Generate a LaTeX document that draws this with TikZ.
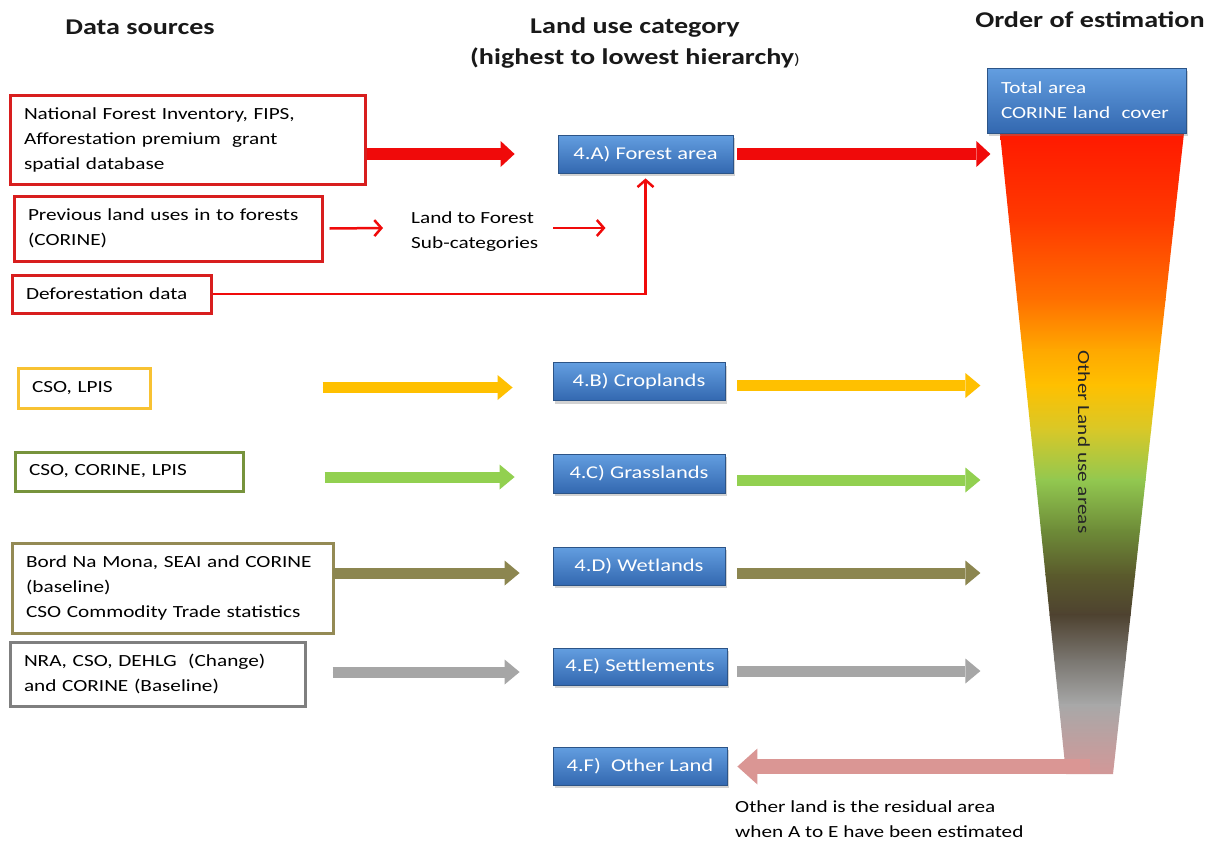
\documentclass[tikz,border=0pt]{standalone}
\usepackage{fontspec}
\setmainfont{Carlito}[FakeStretch=1.25]
\usetikzlibrary{arrows.meta,shadows}
\definecolor{bred}{HTML}{D81E1E}
\definecolor{ared}{HTML}{F00A0A}
\definecolor{byel}{HTML}{F8C232}
\definecolor{ayel}{HTML}{FFC000}
\definecolor{bgrn}{HTML}{77933C}
\definecolor{agrn}{HTML}{92D050}
\definecolor{bkha}{HTML}{948A54}
\definecolor{akha}{HTML}{8C8650}
\definecolor{bgry}{HTML}{7F7F7F}
\definecolor{agry}{HTML}{A6A6A6}
\definecolor{apink}{HTML}{DA9694}
\definecolor{blueT}{HTML}{639EE0}
\definecolor{blueB}{HTML}{3368B0}
\definecolor{blueD}{HTML}{2C5487}
\definecolor{fc0}{HTML}{FF1400}
\definecolor{fc1}{HTML}{FF3A00}
\definecolor{fc2}{HTML}{FF7000}
\definecolor{fc3}{HTML}{FFA800}
\definecolor{fc4}{HTML}{FFC000}
\definecolor{fc5}{HTML}{D8C828}
\definecolor{fc6}{HTML}{92C850}
\definecolor{fc7}{HTML}{6E8C38}
\definecolor{fc8}{HTML}{5A5A2C}
\definecolor{fc9}{HTML}{4E4230}
\definecolor{fc10}{HTML}{7A7670}
\definecolor{fc11}{HTML}{A8A8A8}
\definecolor{fc12}{HTML}{DC9494}
\tikzset{
  title/.style={font=\fontsize{22.5}{31}\selectfont\bfseries, text=black!90},
  src/.style={draw=#1, line width=3pt, align=left, inner xsep=14pt, inner ysep=0pt, fill=white},
  cat/.style={top color=blueT, bottom color=blueB, draw=blueD, line width=0.8pt, text=white,
    minimum height=38pt, inner sep=0pt, font=\fontsize{18}{25}\selectfont,
    drop shadow={opacity=0.35, shadow xshift=2pt, shadow yshift=-3pt}},
  fat/.style n args={4}{draw=#1, fill=#1, line width=#2, -{Triangle[length=#3, width=#4, line width=0pt]}},
  thin/.style={draw=ared, line width=2.5pt, -{Straight Barb[length=7pt, width=16pt]}}
}
\begin{document}
\begin{tikzpicture}[x=1pt,y=-1pt, font=\fontsize{17}{25}\selectfont]
\useasboundingbox[fill=white] (0,0) rectangle (1211,847);

% titles
\node[title] (t1) at (140,27) {Data sources};
\node[title, align=center] (t2) at (635,43) {Land use category\\(highest to lowest hierarchy{\mdseries\fontsize{15}{31}\selectfont)}};
\node[title] (t3) at (1090,20) {Order of estimation};

% funnel
\coordinate (f1) at (1000,133);
\coordinate (f2) at (1184,133);
\coordinate (f3) at (1113,774);
\coordinate (f4) at (1066,774);
\begin{scope}
  \clip (f1) -- (f2) -- (f3) -- (f4) -- cycle;
  \foreach \ya/\ca/\yb/\cb in {120/fc0/220/fc1, 220/fc1/300/fc2, 300/fc2/350/fc3, 350/fc3/385/fc4,
      385/fc4/430/fc5, 430/fc5/480/fc6, 480/fc6/530/fc7, 530/fc7/575/fc8, 575/fc8/615/fc9,
      615/fc9/660/fc10, 660/fc10/705/fc11, 705/fc11/790/fc12}
    {\shade[top color=\ca, bottom color=\cb] (990,\ya-0.5) rectangle (1195,\yb+0.5);}
\end{scope}
\node[rotate=-90, text=black!85] (ol) at (1084,442) {Other Land use areas};

% source boxes
\node[src=bred, text width=327pt, minimum height=89pt] (s1) at (187.5,139.5)
  {National Forest Inventory, FIPS,\\Afforestation premium\ \ grant\\spatial database};
\node[src=bred, text width=280pt, minimum height=65pt] (s2) at (168,228.5)
  {Previous land uses in to forests\\(CORINE)};
\node[src=bred, text width=171pt, minimum height=38pt] (s3) at (111.5,294)
  {Deforestation data};
\node[src=byel, text width=104pt, minimum height=40pt] (s4) at (84,388) {CSO, LPIS};
\node[src=bgrn, text width=200pt, minimum height=39pt] (s5) at (129,471.5) {CSO, CORINE, LPIS};
\node[src=bkha, text width=293pt, minimum height=90pt] (s6) at (172.5,588)
  {Bord Na Mona, SEAI and CORINE\\(baseline)\\CSO Commodity Trade statistics};
\node[src=bgry, text width=267pt, minimum height=64pt] (s7) at (157.5,674)
  {NRA, CSO, DEHLG\ \ (Change)\\and CORINE (Baseline)};

% category boxes
\node[cat, minimum width=175pt] (fa) at (645.5,154) {4.A) Forest area};
\node[cat, minimum width=172pt] (cb) at (639,381.5) {4.B) Croplands};
\node[cat, minimum width=172pt, minimum height=39pt] (gr) at (639,473.5) {4.C) Grasslands};
\node[cat, minimum width=172pt] (we) at (639,566) {4.D) Wetlands};
\node[cat, minimum width=174pt, minimum height=37pt] (se) at (640,666.5) {4.E) Settlements};
\node[cat, minimum width=174pt] (ot) at (640,766) {4.F)\ \ Other Land};
\node[cat, font=\fontsize{17}{25}\selectfont, minimum width=199pt, minimum height=65pt, align=left, text width=171pt, inner xsep=14pt] (tot) at (1086.5,100.5)
  {Total area\\CORINE land\ \ cover};

% land to forest
\node[anchor=west, align=left, inner sep=0pt] (lf) at (411,232) {Land to Forest\\Sub-categories};

% connectors
\draw[fat={ared}{12pt}{14pt}{26pt}, shorten >=43pt] (s1.east |- fa.west) -- (fa.west);
\draw[fat={ared}{12pt}{14pt}{26pt}] ([shift={(4,0)}]fa.east) -- ([shift={(257,0)}]fa.east);
\draw[thin] ([shift={(6,0)}]s2.east) -- ([shift={(-28,-4)}]lf.west);
\draw[thin] ([shift={(15,-4)}]lf.east) -- ([shift={(67,-4)}]lf.east);
\draw[thin] (s3.east) -| ([shift={(0,5)}]fa.south);

\draw[fat={ayel}{11pt}{15pt}{25pt}] ([shift={(-230,6)}]cb.west) -- ([shift={(-40,6)}]cb.west);
\draw[fat={ayel}{11pt}{15pt}{25pt}] ([shift={(12,4)}]cb.east) -- ([shift={(255,4)}]cb.east);
\draw[fat={agrn}{11pt}{15pt}{25pt}] ([shift={(-228,3.5)}]gr.west) -- ([shift={(-38,3.5)}]gr.west);
\draw[fat={agrn}{11pt}{15pt}{25pt}] ([shift={(12,6.5)}]gr.east) -- ([shift={(255,6.5)}]gr.east);
\draw[fat={akha}{11pt}{15pt}{25pt}] ([shift={(-220,7)}]we.west) -- ([shift={(-33,7)}]we.west);
\draw[fat={akha}{11pt}{15pt}{25pt}] ([shift={(12,7)}]we.east) -- ([shift={(255,7)}]we.east);
\draw[fat={agry}{11pt}{15pt}{25pt}] ([shift={(-220,5.5)}]se.west) -- ([shift={(-33,5.5)}]se.west);
\draw[fat={agry}{11pt}{15pt}{25pt}] ([shift={(10,4.5)}]se.east) -- ([shift={(253,4.5)}]se.east);

\coordinate (fb) at (1090,766.5);
\draw[fat={apink}{15pt}{20pt}{36pt}] (fb) -- ([shift={(10,0.5)}]ot.east);

\node[anchor=north west, align=left, inner sep=0pt] (note) at (735,800)
  {Other land is the residual area\\when A to E have been estimated};
\end{tikzpicture}
\end{document}
